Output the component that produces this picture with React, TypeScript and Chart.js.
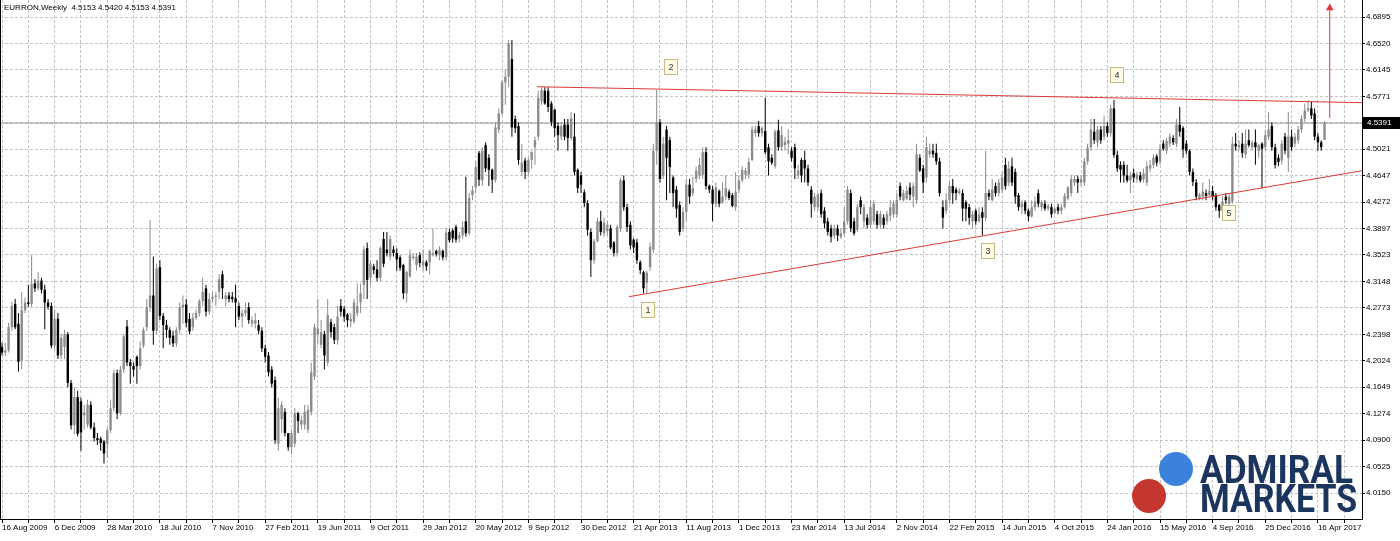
import React, { useEffect, useRef } from 'react';
import { Chart, registerables } from 'chart.js';

Chart.register(...registerables);

const W = 1400;
const H = 541;

// Weekly EURRON candles, 16 Aug 2009 onwards (one entry per week)
const opens = [
  4.222,4.214,4.217,4.250,4.283,4.255,4.203,4.274,4.285,4.283,
  4.312,4.305,4.316,4.303,4.285,4.280,4.224,4.262,4.210,4.222,
  4.240,4.171,4.111,4.151,4.145,4.125,4.112,4.140,4.108,4.093,
  4.092,4.088,4.085,4.104,4.135,4.185,4.128,4.190,4.251,4.200,
  4.195,4.208,4.195,4.224,4.250,4.278,4.295,4.245,4.335,4.266,
  4.253,4.246,4.238,4.227,4.246,4.278,4.282,4.262,4.250,4.263,
  4.270,4.287,4.305,4.272,4.290,4.293,4.300,4.325,4.290,4.295,
  4.293,4.291,4.280,4.265,4.270,4.278,4.255,4.255,4.253,4.245,
  4.220,4.210,4.190,4.175,4.085,4.120,4.130,4.100,4.080,4.085,
  4.128,4.112,4.112,4.105,4.130,4.180,4.240,4.225,4.240,4.200,
  4.257,4.250,4.232,4.280,4.276,4.268,4.258,4.258,4.270,4.285,
  4.310,4.362,4.320,4.336,4.332,4.320,4.375,4.360,4.350,4.360,
  4.355,4.349,4.338,4.298,4.322,4.348,4.338,4.352,4.338,4.342,
  4.342,4.352,4.358,4.352,4.358,4.349,4.385,4.387,4.392,4.376,
  4.380,4.400,4.383,4.437,4.448,4.497,4.458,4.508,4.490,4.473,
  4.459,4.530,4.553,4.597,4.605,4.630,4.545,4.535,4.470,4.486,
  4.470,4.487,4.505,4.520,4.570,4.585,4.585,4.567,4.558,4.535,
  4.520,4.537,4.537,4.518,4.520,4.473,4.465,4.441,4.426,4.385,
  4.345,4.372,4.400,4.383,4.386,4.390,4.370,4.355,4.390,4.458,
  4.420,4.395,4.374,4.370,4.342,4.328,4.313,4.335,4.360,4.500,
  4.540,4.465,4.530,4.515,4.462,4.445,4.423,4.390,4.413,4.452,
  4.440,4.460,4.465,4.466,4.498,4.450,4.445,4.425,4.443,4.427,
  4.435,4.442,4.437,4.420,4.445,4.458,4.466,4.466,4.487,4.525,
  4.535,4.525,4.528,4.505,4.490,4.478,4.529,4.505,4.508,4.510,
  4.500,4.505,4.465,4.487,4.487,4.475,4.445,4.420,4.420,4.440,
  4.415,4.400,4.390,4.380,4.390,4.378,4.383,4.400,4.440,4.400,
  4.388,4.430,4.400,4.405,4.395,4.400,4.410,4.395,4.405,4.400,
  4.408,4.410,4.410,4.450,4.430,4.432,4.448,4.435,4.430,4.490,
  4.475,4.462,4.495,4.500,4.497,4.485,4.420,4.415,4.430,4.450,
  4.445,4.440,4.440,4.427,4.420,4.400,4.415,4.400,4.413,4.405,
  4.440,4.430,4.450,4.440,4.445,4.480,4.455,4.478,4.470,4.437,
  4.420,4.427,4.415,4.407,4.420,4.440,4.420,4.425,4.418,4.420,
  4.412,4.420,4.415,4.420,4.432,4.440,4.455,4.460,4.455,4.455,
  4.485,4.505,4.527,4.512,4.530,4.520,4.535,4.525,4.560,4.494,
  4.480,4.480,4.465,4.458,4.468,4.460,4.465,4.460,4.455,4.475,
  4.480,4.492,4.485,4.510,4.500,4.510,4.518,4.510,4.537,4.532,
  4.510,4.500,4.470,4.455,4.432,4.435,4.440,4.437,4.443,4.437,
  4.423,4.415,4.435,4.425,4.428,4.510,4.505,4.510,4.495,4.515,
  4.505,4.512,4.500,4.510,4.505,4.520,4.535,4.505,4.490,4.486,
  4.520,4.490,4.520,4.510,4.515,4.530,4.545,4.557,4.560,4.553,
  4.520,4.512,4.5153,
];

const highs = [
  4.228,4.228,4.256,4.286,4.290,4.270,4.300,4.292,4.310,4.352,
  4.318,4.328,4.320,4.310,4.290,4.285,4.275,4.270,4.240,4.246,
  4.243,4.175,4.165,4.160,4.150,4.140,4.147,4.145,4.115,4.100,
  4.095,4.090,4.108,4.147,4.190,4.190,4.195,4.240,4.260,4.205,
  4.200,4.210,4.230,4.250,4.290,4.402,4.350,4.340,4.345,4.270,
  4.260,4.250,4.245,4.250,4.285,4.295,4.290,4.270,4.270,4.275,
  4.290,4.320,4.310,4.298,4.300,4.300,4.325,4.330,4.300,4.300,
  4.300,4.310,4.285,4.275,4.285,4.285,4.265,4.270,4.260,4.250,
  4.225,4.215,4.195,4.180,4.150,4.145,4.135,4.100,4.105,4.135,
  4.130,4.125,4.140,4.140,4.200,4.255,4.290,4.260,4.245,4.290,
  4.262,4.255,4.280,4.290,4.280,4.270,4.270,4.290,4.312,4.312,
  4.365,4.370,4.345,4.340,4.345,4.365,4.385,4.385,4.380,4.365,
  4.362,4.352,4.340,4.330,4.360,4.355,4.355,4.356,4.360,4.345,
  4.360,4.390,4.360,4.365,4.360,4.390,4.390,4.390,4.395,4.385,
  4.400,4.463,4.440,4.450,4.485,4.500,4.505,4.512,4.495,4.475,
  4.540,4.560,4.600,4.615,4.657,4.657,4.550,4.540,4.510,4.490,
  4.490,4.500,4.520,4.585,4.590,4.590,4.590,4.570,4.560,4.540,
  4.540,4.545,4.545,4.555,4.553,4.475,4.470,4.445,4.430,4.390,
  4.375,4.405,4.415,4.405,4.400,4.395,4.372,4.395,4.462,4.465,
  4.425,4.400,4.376,4.375,4.345,4.330,4.330,4.370,4.510,4.586,
  4.545,4.520,4.535,4.520,4.465,4.450,4.428,4.420,4.460,4.460,
  4.463,4.478,4.490,4.505,4.505,4.452,4.450,4.455,4.445,4.455,
  4.465,4.445,4.440,4.470,4.465,4.478,4.476,4.490,4.535,4.535,
  4.542,4.535,4.575,4.510,4.495,4.530,4.544,4.535,4.520,4.530,
  4.505,4.510,4.480,4.490,4.500,4.480,4.450,4.440,4.440,4.445,
  4.420,4.405,4.395,4.395,4.395,4.390,4.420,4.450,4.445,4.405,
  4.425,4.435,4.425,4.410,4.430,4.430,4.415,4.415,4.410,4.415,
  4.430,4.430,4.440,4.455,4.445,4.450,4.455,4.455,4.510,4.495,
  4.480,4.520,4.510,4.510,4.510,4.490,4.430,4.440,4.457,4.460,
  4.448,4.447,4.445,4.430,4.425,4.415,4.418,4.420,4.420,4.500,
  4.445,4.460,4.455,4.460,4.470,4.490,4.485,4.490,4.475,4.440,
  4.430,4.430,4.418,4.430,4.435,4.445,4.430,4.430,4.425,4.425,
  4.420,4.425,4.425,4.440,4.450,4.465,4.465,4.465,4.465,4.490,
  4.510,4.545,4.545,4.535,4.535,4.550,4.540,4.565,4.572,4.500,
  4.485,4.485,4.480,4.470,4.475,4.470,4.470,4.475,4.485,4.487,
  4.495,4.495,4.510,4.515,4.518,4.525,4.522,4.545,4.562,4.535,
  4.515,4.502,4.475,4.460,4.440,4.455,4.445,4.460,4.450,4.440,
  4.425,4.436,4.440,4.440,4.520,4.525,4.515,4.525,4.530,4.530,
  4.515,4.530,4.510,4.512,4.530,4.555,4.540,4.510,4.495,4.515,
  4.525,4.555,4.530,4.525,4.535,4.550,4.567,4.572,4.570,4.560,
  4.525,4.515,4.5420,
];

const lows = [
  4.210,4.209,4.214,4.245,4.247,4.187,4.190,4.270,4.279,4.279,
  4.300,4.302,4.298,4.247,4.275,4.220,4.218,4.205,4.205,4.205,
  4.165,4.105,4.098,4.095,4.075,4.105,4.108,4.105,4.088,4.083,
  4.075,4.057,4.065,4.100,4.130,4.120,4.125,4.185,4.195,4.170,
  4.180,4.170,4.190,4.220,4.245,4.272,4.225,4.240,4.260,4.220,
  4.235,4.225,4.222,4.222,4.240,4.255,4.250,4.240,4.245,4.260,
  4.265,4.280,4.265,4.268,4.285,4.280,4.290,4.290,4.280,4.285,
  4.285,4.250,4.260,4.250,4.265,4.255,4.250,4.248,4.240,4.215,
  4.200,4.180,4.165,4.085,4.075,4.100,4.095,4.075,4.070,4.080,
  4.100,4.105,4.105,4.100,4.125,4.175,4.225,4.220,4.190,4.195,
  4.235,4.226,4.225,4.265,4.258,4.250,4.250,4.255,4.265,4.270,
  4.290,4.290,4.310,4.325,4.315,4.315,4.335,4.350,4.345,4.350,
  4.330,4.330,4.290,4.285,4.320,4.345,4.330,4.335,4.330,4.330,
  4.325,4.350,4.350,4.345,4.345,4.345,4.370,4.370,4.370,4.370,
  4.375,4.378,4.380,4.430,4.440,4.450,4.450,4.470,4.450,4.440,
  4.455,4.525,4.550,4.565,4.590,4.520,4.525,4.480,4.465,4.460,
  4.465,4.475,4.480,4.515,4.565,4.565,4.555,4.535,4.520,4.500,
  4.515,4.515,4.500,4.515,4.465,4.440,4.440,4.420,4.380,4.321,
  4.340,4.370,4.380,4.378,4.380,4.360,4.350,4.350,4.385,4.415,
  4.385,4.360,4.355,4.340,4.325,4.298,4.298,4.330,4.355,4.480,
  4.455,4.460,4.430,4.440,4.420,4.405,4.380,4.385,4.400,4.425,
  4.435,4.455,4.460,4.460,4.445,4.440,4.400,4.420,4.420,4.425,
  4.430,4.430,4.420,4.415,4.440,4.455,4.460,4.460,4.485,4.520,
  4.520,4.520,4.495,4.465,4.480,4.475,4.500,4.500,4.500,4.495,
  4.485,4.460,4.460,4.455,4.455,4.450,4.405,4.415,4.415,4.405,
  4.390,4.380,4.370,4.375,4.372,4.375,4.380,4.395,4.385,4.380,
  4.385,4.410,4.390,4.390,4.390,4.395,4.390,4.390,4.390,4.395,
  4.400,4.405,4.405,4.430,4.428,4.430,4.430,4.420,4.425,4.470,
  4.440,4.455,4.490,4.490,4.480,4.435,4.390,4.410,4.425,4.425,
  4.430,4.438,4.400,4.400,4.395,4.390,4.395,4.398,4.380,4.400,
  4.430,4.428,4.435,4.435,4.440,4.445,4.450,4.450,4.425,4.415,
  4.410,4.410,4.400,4.405,4.415,4.420,4.415,4.415,4.415,4.405,
  4.410,4.410,4.410,4.418,4.430,4.435,4.450,4.440,4.450,4.450,
  4.480,4.500,4.510,4.505,4.510,4.515,4.520,4.520,4.490,4.470,
  4.455,4.455,4.455,4.440,4.455,4.455,4.455,4.455,4.450,4.470,
  4.475,4.478,4.480,4.500,4.495,4.505,4.508,4.505,4.520,4.490,
  4.495,4.465,4.450,4.430,4.430,4.430,4.430,4.435,4.430,4.415,
  4.405,4.410,4.425,4.420,4.425,4.500,4.500,4.490,4.490,4.505,
  4.500,4.480,4.490,4.447,4.500,4.515,4.500,4.475,4.478,4.480,
  4.495,4.470,4.500,4.505,4.510,4.525,4.540,4.555,4.545,4.515,
  4.500,4.500,4.5153,
];

const closes = [
  4.214,4.217,4.250,4.280,4.250,4.201,4.274,4.285,4.283,4.311,
  4.305,4.316,4.303,4.285,4.279,4.224,4.262,4.210,4.235,4.240,
  4.171,4.111,4.151,4.099,4.101,4.129,4.140,4.108,4.093,4.090,
  4.086,4.071,4.104,4.135,4.185,4.128,4.190,4.237,4.200,4.195,
  4.190,4.195,4.220,4.246,4.278,4.295,4.245,4.333,4.266,4.253,
  4.246,4.235,4.227,4.246,4.278,4.282,4.256,4.244,4.263,4.270,
  4.287,4.300,4.272,4.290,4.293,4.295,4.318,4.305,4.295,4.290,
  4.290,4.285,4.265,4.270,4.274,4.260,4.260,4.260,4.245,4.220,
  4.208,4.186,4.170,4.090,4.135,4.140,4.100,4.080,4.100,4.128,
  4.117,4.118,4.130,4.133,4.186,4.250,4.248,4.243,4.210,4.267,
  4.243,4.232,4.265,4.272,4.265,4.260,4.262,4.285,4.280,4.298,
  4.360,4.317,4.340,4.331,4.320,4.362,4.340,4.355,4.375,4.355,
  4.346,4.334,4.298,4.328,4.352,4.350,4.350,4.341,4.343,4.336,
  4.358,4.355,4.354,4.360,4.349,4.384,4.373,4.376,4.374,4.380,
  4.392,4.383,4.433,4.444,4.477,4.459,4.500,4.475,4.473,4.459,
  4.533,4.553,4.597,4.605,4.652,4.533,4.532,4.487,4.483,4.470,
  4.487,4.498,4.515,4.575,4.586,4.567,4.562,4.541,4.532,4.522,
  4.535,4.520,4.518,4.546,4.470,4.447,4.452,4.426,4.388,4.345,
  4.372,4.400,4.385,4.398,4.395,4.363,4.355,4.392,4.458,4.420,
  4.392,4.366,4.363,4.345,4.331,4.305,4.327,4.364,4.500,4.540,
  4.460,4.510,4.490,4.477,4.440,4.418,4.385,4.413,4.452,4.435,
  4.447,4.472,4.480,4.498,4.450,4.445,4.425,4.448,4.425,4.435,
  4.447,4.433,4.422,4.442,4.458,4.473,4.472,4.484,4.530,4.530,
  4.525,4.532,4.498,4.485,4.483,4.527,4.505,4.522,4.513,4.515,
  4.490,4.475,4.472,4.465,4.475,4.455,4.425,4.435,4.438,4.410,
  4.397,4.385,4.378,4.390,4.380,4.383,4.400,4.445,4.390,4.383,
  4.420,4.420,4.420,4.395,4.420,4.425,4.395,4.410,4.395,4.410,
  4.420,4.425,4.430,4.435,4.440,4.443,4.438,4.450,4.495,4.472,
  4.455,4.505,4.500,4.495,4.485,4.440,4.405,4.430,4.450,4.440,
  4.440,4.443,4.418,4.418,4.405,4.410,4.400,4.410,4.405,4.440,
  4.435,4.445,4.440,4.455,4.462,4.450,4.475,4.455,4.435,4.420,
  4.425,4.415,4.407,4.420,4.428,4.425,4.427,4.418,4.422,4.410,
  4.418,4.415,4.420,4.436,4.448,4.460,4.460,4.455,4.460,4.485,
  4.504,4.530,4.515,4.530,4.515,4.535,4.525,4.560,4.494,4.475,
  4.473,4.465,4.458,4.465,4.462,4.466,4.458,4.468,4.478,4.480,
  4.490,4.483,4.503,4.503,4.514,4.520,4.512,4.537,4.527,4.502,
  4.500,4.470,4.456,4.435,4.438,4.442,4.436,4.443,4.435,4.420,
  4.415,4.428,4.430,4.435,4.510,4.506,4.508,4.497,4.510,4.508,
  4.512,4.505,4.508,4.503,4.522,4.530,4.505,4.480,4.484,4.510,
  4.500,4.520,4.505,4.520,4.530,4.545,4.557,4.560,4.550,4.520,
  4.512,4.505,4.5391,
];

// One date label every 16 weeks
const dateLabels = [
  '16 Aug 2009', '6 Dec 2009', '28 Mar 2010', '18 Jul 2010', '7 Nov 2010',
  '27 Feb 2011', '19 Jun 2011', '9 Oct 2011', '29 Jan 2012', '20 May 2012',
  '9 Sep 2012', '30 Dec 2012', '21 Apr 2013', '11 Aug 2013', '1 Dec 2013',
  '23 Mar 2014', '13 Jul 2014', '2 Nov 2014', '22 Feb 2015', '14 Jun 2015',
  '4 Oct 2015', '24 Jan 2016', '15 May 2016', '4 Sep 2016', '25 Dec 2016',
  '16 Apr 2017',
];

const priceLabels = [
  '4.0150', '4.0525', '4.0900', '4.1274', '4.1649', '4.2024', '4.2398',
  '4.2773', '4.3148', '4.3523', '4.3897', '4.4272', '4.4647', '4.5021',
  '4.5396', '4.5771', '4.6145', '4.6520', '4.6895',
];

const currentPrice = 4.5391;
const headerText = 'EURRON,Weekly  4.5153 4.5420 4.5153 4.5391';

// Drawn pattern (x in week index, y in price)
const upperLine = [ { x: 162.6, y: 4.5907 }, { x: 413.4, y: 4.5681 } ];
const lowerLine = [ { x: 190.6, y: 4.2932 }, { x: 413.4, y: 4.4717 } ];
const arrowLine = [ { x: 403.6, y: 4.5464 }, { x: 403.6, y: 4.7023 } ];
const notes = [
  { text: '1', x: 196.4, y: 4.2743 },
  { text: '2', x: 203.3, y: 4.6187 },
  { text: '3', x: 299.7, y: 4.3579 },
  { text: '4', x: 338.9, y: 4.6073 },
  { text: '5', x: 372.9, y: 4.4118 },
];

const X_MIN = -0.608;
const X_MAX = 413.4;
const Y_MIN = 3.9782;
const Y_MAX = 4.7136;

const BULL = '#8c8c8c';
const BEAR = '#000000';
const GRID = '#c4c4c4';
const RED = '#dc3a3a';
const FONT = 'Liberation Sans';

const overlay = {
  id: 'overlay',
  beforeDraw(chart: any) {
    const ctx = chart.ctx;
    ctx.save();
    ctx.fillStyle = '#ffffff';
    ctx.fillRect(0, 0, chart.width, chart.height);
    ctx.restore();
  },
  afterDraw(chart: any) {
    const { ctx, chartArea: a } = chart;
    const xs = chart.scales.x;
    const ys = chart.scales.y;
    ctx.save();
    // left frame
    ctx.strokeStyle = '#000';
    ctx.lineWidth = 1;
    ctx.beginPath();
    ctx.moveTo(a.left + 0.5, a.top);
    ctx.lineTo(a.left + 0.5, a.bottom);
    ctx.stroke();

    // header
    ctx.fillStyle = '#000';
    ctx.font = `8px "${FONT}"`;
    ctx.textBaseline = 'middle';
    ctx.textAlign = 'left';
    ctx.fillText(headerText, 4, 8);

    // numbered notes
    for (const n of notes) {
      const px = Math.round(xs.getPixelForValue(n.x));
      const py = Math.round(ys.getPixelForValue(n.y));
      ctx.fillStyle = '#fffbe6';
      ctx.fillRect(px - 7, py - 8, 14, 16);
      ctx.strokeStyle = '#c8b787';
      ctx.strokeRect(px - 6.5, py - 7.5, 13, 15);
      ctx.fillStyle = '#333';
      ctx.font = `9px "${FONT}"`;
      ctx.textAlign = 'center';
      ctx.fillText(n.text, px, py + 0.5);
    }

    // current price box
    const cp = Math.round(ys.getPixelForValue(currentPrice));
    ctx.fillStyle = '#000';
    ctx.fillRect(a.right + 1, cp - 6, chart.width - a.right - 1, 12);
    ctx.fillStyle = '#fff';
    ctx.textAlign = 'left';
    ctx.font = `8px "${FONT}"`;
    ctx.fillText(currentPrice.toFixed(4), a.right + 5, cp);

    // logo
    ctx.fillStyle = '#3a82dc';
    ctx.beginPath();
    ctx.arc(1176, 469, 17, 0, Math.PI * 2);
    ctx.fill();
    ctx.fillStyle = '#c4362e';
    ctx.beginPath();
    ctx.arc(1149, 496, 17, 0, Math.PI * 2);
    ctx.fill();
    ctx.fillStyle = '#1c355e';
    ctx.font = 'bold 39px Roboto';
    ctx.textBaseline = 'alphabetic';
    const fit = (t: string, x: number, yb: number, w: number) => {
      const m = ctx.measureText(t).width;
      ctx.save();
      ctx.translate(x, yb);
      ctx.scale(w / m, 1);
      ctx.fillText(t, 0, 0);
      ctx.restore();
    };
    fit('ADMIRAL', 1200, 483, 153);
    fit('MARKETS', 1200, 512, 157);
    ctx.restore();
  },
};

export default function App() {
  const ref = useRef<HTMLCanvasElement>(null);
  useEffect(() => {
    document.body.style.margin = '0';
    const canvas = ref.current;
    if (!canvas) return;
    const bodyColors = closes.map((c, i) => (c >= opens[i] ? BULL : BEAR));
    const bodies = closes.map((c, i) => ({ x: i, y: [opens[i], c] }));
    const wicks = closes.map((c, i) => ({
      x: i,
      y: [Math.min(lows[i], opens[i], c), Math.max(highs[i], opens[i], c)],
    }));
    const chart = new Chart(canvas, {
      type: 'bar',
      data: {
        datasets: [
          {
            type: 'line',
            data: [ { x: X_MIN, y: currentPrice }, { x: X_MAX, y: currentPrice } ],
            borderColor: '#9a9a9a',
            borderWidth: 1,
            pointRadius: 0,
            order: 9,
          } as any,
          {
            type: 'bar',
            data: wicks as any,
            backgroundColor: bodyColors,
            barThickness: 1,
            grouped: false,
            borderWidth: 0,
            inflateAmount: 0,
            order: 6,
          } as any,
          {
            type: 'bar',
            data: bodies as any,
            backgroundColor: bodyColors,
            barThickness: 2.4,
            minBarLength: 1,
            grouped: false,
            borderWidth: 0,
            inflateAmount: 0,
            order: 5,
          } as any,
          {
            type: 'line',
            data: upperLine,
            borderColor: RED,
            borderWidth: 1,
            pointRadius: 0,
            order: 1,
          } as any,
          {
            type: 'line',
            data: lowerLine,
            borderColor: RED,
            borderWidth: 1,
            pointRadius: 0,
            order: 1,
          } as any,
          {
            type: 'line',
            data: arrowLine,
            borderColor: RED,
            borderWidth: 1,
            pointRadius: [0, 4.5],
            pointStyle: 'triangle',
            pointBackgroundColor: RED,
            pointBorderColor: RED,
            pointBorderWidth: 0,
            order: 1,
            clip: false,
          } as any,
        ],
      },
      options: {
        responsive: false,
        animation: false,
        devicePixelRatio: 1,
        layout: { padding: 0, autoPadding: false },
        plugins: { legend: { display: false }, tooltip: { enabled: false } },
        scales: {
          x: {
            type: 'linear',
            min: X_MIN,
            max: X_MAX,
            offset: false,
            afterBuildTicks: (s: any) => {
              const t = [];
              for (let v = 0; v <= 408; v += 8) t.push({ value: v });
              s.ticks = t;
            },
            afterFit: (s: any) => {
              s.height = 22;
              s.paddingLeft = 0;
              s.paddingRight = 0;
            },
            ticks: {
              autoSkip: false,
              maxRotation: 0,
              minRotation: 0,
              align: 'start',
              padding: 0,
              color: '#000',
              font: { family: FONT, size: 8 },
              callback: (v: any) => (v % 16 === 0 ? dateLabels[v / 16] ?? '' : ''),
            },
            grid: {
              color: GRID,
              lineWidth: 1,
              offset: false,
              drawTicks: true,
              tickLength: 4,
              tickColor: '#000',
            },
            border: { display: true, color: '#000', dash: [3, 2] },
          } as any,
          y: {
            type: 'linear',
            position: 'right',
            min: Y_MIN,
            max: Y_MAX,
            afterBuildTicks: (s: any) => {
              s.ticks = priceLabels.map((l) => ({ value: parseFloat(l) }));
            },
            afterFit: (s: any) => {
              s.width = 38;
              s.paddingTop = 0;
              s.paddingBottom = 0;
            },
            ticks: {
              autoSkip: false,
              padding: 1,
              color: '#000',
              font: { family: FONT, size: 8 },
              callback: (_v: any, i: number) => priceLabels[i],
            },
            grid: {
              color: GRID,
              lineWidth: 1,
              drawTicks: true,
              tickLength: 3,
              tickColor: '#000',
            },
            border: { display: true, color: '#000', dash: [3, 2] },
          } as any,
        },
      },
      plugins: [overlay as any],
    });
    return () => chart.destroy();
  }, []);
  return (
    <div style={{ position: 'absolute', left: 0, top: 0, width: W, height: H }}>
      <canvas ref={ref} width={W} height={H} style={{ display: 'block', width: W, height: H }} />
    </div>
  );
}
